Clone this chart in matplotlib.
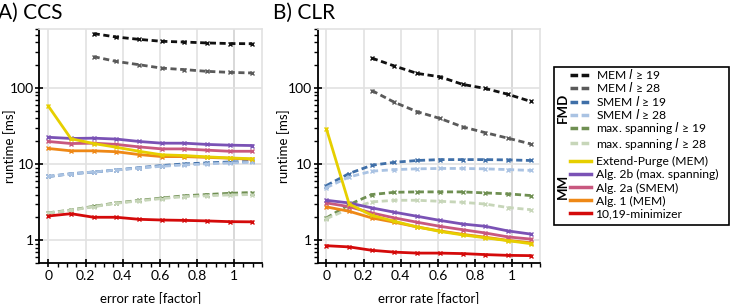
import numpy as np
import matplotlib
matplotlib.use('Agg')
import matplotlib.pyplot as plt
from matplotlib.lines import Line2D
from matplotlib.patches import Rectangle
from matplotlib.ticker import FixedLocator, MultipleLocator, LogLocator, NullFormatter

plt.rcParams['font.family'] = ['Lato', 'DejaVu Sans']
plt.rcParams['mathtext.fontset'] = 'dejavusans'

nan = np.nan
err = [0, 0.122, 0.244, 0.366, 0.488, 0.61, 0.732, 0.854, 0.976, 1.098]

# A) CCS
ccs_mem19 = [nan, nan, 520, 469, 437, 412, 403, 392, 385, 383]
ccs_mem28 = [nan, nan, 259, 224, 203, 183, 175, 166, 161, 158]
ccs_smem19 = [6.9, 7.5, 7.9, 8.4, 9.0, 9.6, 10.1, 10.4, 10.7, 10.9]
ccs_smem28 = [6.9, 7.5, 7.9, 8.4, 8.9, 9.4, 9.8, 10.1, 10.4, 10.6]
ccs_span19 = [2.3, 2.5, 2.8, 3.1, 3.35, 3.6, 3.85, 4.0, 4.15, 4.25]
ccs_span28 = [2.29, 2.48, 2.77, 3.07, 3.3, 3.54, 3.75, 3.85, 3.95, 4.0]
ccs_ep = [58, 21.6, 18.7, 16.7, 14.8, 13.3, 13.0, 12.5, 12.1, 11.8]
ccs_2b = [22.6, 21.8, 22.0, 21.4, 19.9, 18.9, 18.9, 18.2, 17.8, 17.6]
ccs_2a = [19.9, 18.7, 18.9, 18.2, 16.9, 15.9, 15.9, 15.3, 14.8, 14.8]
ccs_alg1 = [16.1, 15.0, 15.0, 14.6, 13.4, 12.6, 12.6, 12.3, 12.0, 11.6]
ccs_min = [2.09, 2.24, 2.01, 2.01, 1.89, 1.85, 1.83, 1.80, 1.76, 1.75]

# B) CLR
clr_mem19 = [nan, nan, 248, 195, 156, 141, 112, 99, 83, 67]
clr_mem28 = [nan, nan, 93, 65, 49, 40, 31, 26, 22, 18.5]
clr_smem19 = [5.25, 7.55, 9.7, 10.6, 11.2, 11.5, 11.5, 11.5, 11.4, 11.2]
clr_smem28 = [4.94, 6.8, 8.1, 8.5, 8.7, 8.8, 8.8, 8.7, 8.5, 8.3]
clr_span19 = [1.97, 2.95, 4.0, 4.28, 4.33, 4.33, 4.33, 4.2, 4.08, 3.88]
clr_span28 = [1.93, 2.59, 3.2, 3.36, 3.36, 3.26, 3.16, 3.0, 2.7, 2.53]
clr_ep = [29, 3.0, 2.13, 1.78, 1.50, 1.31, 1.18, 1.08, 0.99, 0.905]
clr_2b = [3.36, 3.1, 2.67, 2.34, 2.07, 1.83, 1.64, 1.53, 1.33, 1.21]
clr_2a = [3.1, 2.77, 2.29, 1.97, 1.73, 1.53, 1.38, 1.25, 1.11, 1.04]
clr_alg1 = [2.75, 2.41, 1.97, 1.73, 1.50, 1.33, 1.2, 1.1, 1.0, 0.93]
clr_min = [0.85, 0.82, 0.74, 0.70, 0.68, 0.68, 0.67, 0.65, 0.635, 0.63]

fmd_labels = ['MEM $l$ ≥ 19', 'MEM $l$ ≥ 28', 'SMEM $l$ ≥ 19', 'SMEM $l$ ≥ 28',
              'max. spanning $l$ ≥ 19', 'max. spanning $l$ ≥ 28']
fmd_colors = ['#111111', '#5a5a5a', '#3f6fa8', '#aac3e3', '#6f8f52', '#c7d6b9']
mm_labels = ['Extend-Purge (MEM)', 'Alg. 2b (max. spanning)', 'Alg. 2a (SMEM)',
             'Alg. 1 (MEM)', '10,19-minimizer']
mm_colors = ['#e6cf00', '#7a52b5', '#c8587f', '#ee8816', '#d40a0a']

panels = [
    ('A) CCS', [ccs_mem19, ccs_mem28, ccs_smem19, ccs_smem28, ccs_span19, ccs_span28],
     [ccs_ep, ccs_2b, ccs_2a, ccs_alg1, ccs_min]),
    ('B) CLR', [clr_mem19, clr_mem28, clr_smem19, clr_smem28, clr_span19, clr_span28],
     [clr_ep, clr_2b, clr_2a, clr_alg1, clr_min]),
]

fig = plt.figure(figsize=(7.3, 3.04), dpi=100)
lefts = [0.054, 0.435]
ylab_x = [-0.107, -0.124]
for (title, fmd, mm), left, lx in zip(panels, lefts, ylab_x):
    ax = fig.add_axes([left, 0.134, 0.305, 0.771])
    for ys, c in zip(fmd, fmd_colors):
        ax.plot(err, ys, color=c, lw=2, ls=(0, (2.2, 1.3)), marker='x', ms=2.5, mew=1)
    for ys, c in reversed(list(zip(mm, mm_colors))):
        ax.plot(err, ys, color=c, lw=2, marker='x', ms=2.5, mew=1)
    ax.set_yscale('log')
    ax.set_ylim(0.5, 600)
    ax.set_xlim(-0.048, 1.15)
    ax.xaxis.set_major_locator(FixedLocator([0, 0.2, 0.4, 0.6, 0.8, 1.0]))
    ax.set_xticklabels(['0', '0.2', '0.4', '0.6', '0.8', '1'])
    ax.xaxis.set_minor_locator(MultipleLocator(0.05))
    ax.yaxis.set_major_locator(FixedLocator([1, 10, 100]))
    ax.set_yticklabels(['1', '10', '100'])
    ax.yaxis.set_minor_locator(LogLocator(subs=np.arange(2, 10)))
    ax.yaxis.set_minor_formatter(NullFormatter())
    ax.grid(True, which='major', color='#e2e2e2', lw=1.2)
    ax.axvline(1.0, color='#aaaaaa', lw=1.3, zorder=0.5)
    ax.set_axisbelow(True)
    for s in ['top', 'right']:
        ax.spines[s].set_color('#e2e2e2')
        ax.spines[s].set_linewidth(1.2)
    for s in ['left', 'bottom']:
        ax.spines[s].set_linewidth(1.3)
    ax.tick_params(which='major', direction='inout', length=6, width=1.2, labelsize=10, pad=2)
    ax.tick_params(which='minor', direction='out', length=3, width=1)
    ax.tick_params(axis='y', which='major', pad=1)
    ax.set_xlabel('error rate [factor]', fontsize=9.5, labelpad=7)
    ax.set_ylabel('runtime [ms]', fontsize=9.5)
    ax.yaxis.set_label_coords(lx, 0.5)
    ax.text(-0.184 if left < 0.2 else -0.2, 1.025, title, transform=ax.transAxes,
            fontsize=15, ha='left', va='bottom')

# legend
fmd_handles = [Line2D([], [], color=c, lw=2.5, ls=(0, (2.2, 1.0))) for c in fmd_colors]
mm_handles = [Line2D([], [], color=c, lw=2.5) for c in mm_colors]
kw = dict(frameon=False, fontsize=8.7, handlelength=1.7, handletextpad=0.4,
          borderpad=0, borderaxespad=0)
fig.legend(fmd_handles, fmd_labels, loc='upper left', bbox_to_anchor=(0.781, 0.779),
           labelspacing=-0.06, **kw)
fig.legend(mm_handles, mm_labels, loc='upper left', bbox_to_anchor=(0.781, 0.486),
           labelspacing=0.17, **kw)
fig.patches.append(Rectangle((0.759, 0.26), 0.239, 0.52, transform=fig.transFigure,
                             fill=False, ec='black', lw=1.2))
fig.text(0.771, 0.646, 'FMD', rotation=90, fontsize=9.5, fontweight='bold', ha='center', va='center')
fig.text(0.771, 0.386, 'MM', rotation=90, fontsize=9.5, fontweight='bold', ha='center', va='center')

fig.savefig('out.png', dpi=100)
